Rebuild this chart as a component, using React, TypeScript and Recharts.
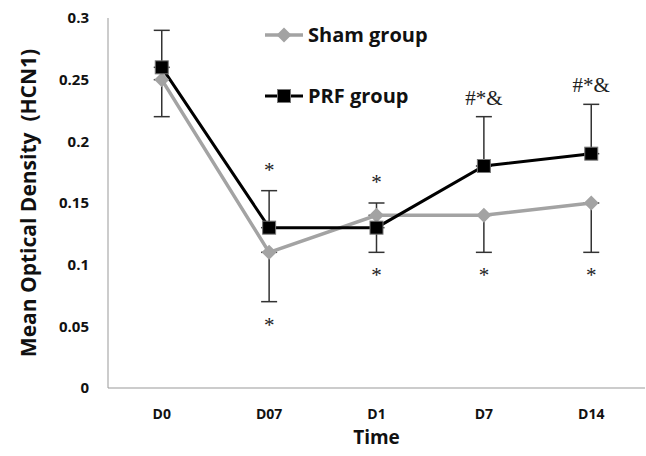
import * as React from 'react';
import { LineChart, Line, XAxis, YAxis, ErrorBar, LabelList } from 'recharts';

const days = ['D0', 'D07', 'D1', 'D7', 'D14'];
const sham = [0.25, 0.11, 0.14, 0.14, 0.15];
const prf = [0.26, 0.13, 0.13, 0.18, 0.19];
const shamErrDown = [0.03, 0.04, 0, 0.03, 0.04];
const shamErrUp = [0, 0, 0.01, 0, 0];
const prfErrUp = [0.03, 0.03, 0, 0.04, 0.04];
const prfErrDown = [0, 0, 0.02, 0, 0];
const marksAbove = ['', '*', '*', '#*&', '#*&'];
const marksBelow = ['', '*', '*', '*', '*'];
const yTicks = [0, 0.05, 0.1, 0.15, 0.2, 0.25, 0.3];

const data = days.map((d, i) => ({
    day: d,
    sham: sham[i],
    prf: prf[i],
    shamErr: [shamErrDown[i], shamErrUp[i]],
    prfErr: [prfErrDown[i], prfErrUp[i]],
    top: Math.max(sham[i] + shamErrUp[i], prf[i] + prfErrUp[i]),
    bottom: Math.min(sham[i] - shamErrDown[i], prf[i] - prfErrDown[i]),
    above: marksAbove[i],
    below: marksBelow[i],
}));

const SHAM = '#a3a3a3';
const FONT = '"Open Sans", Lato, sans-serif';

const Diamond = (props: any) => {
    const { cx, cy } = props;
    if (cx == null || cy == null) return null;
    const r = 7.5;
    return <polygon points={`${cx},${cy - r} ${cx + r},${cy} ${cx},${cy + r} ${cx - r},${cy}`} fill={SHAM} />;
};

const Square = (props: any) => {
    const { cx, cy } = props;
    if (cx == null || cy == null) return null;
    return <rect x={cx - 6.5} y={cy - 6.5} width={13} height={13} fill="#000" stroke="#777" strokeWidth={1} />;
};

const markAbove = (p: any) => {
    if (!p.value) return null;
    const star = p.value === '*';
    return (
        <text x={p.x} y={p.y - (star ? 14 : 12)} textAnchor="middle" fontFamily='"Liberation Serif", serif' fontSize={21} fill="#222">
            {p.value}
        </text>
    );
};

const markBelow = (p: any) => {
    if (!p.value) return null;
    return (
        <text x={p.x} y={p.y + 30} textAnchor="middle" fontFamily='"Liberation Serif", serif' fontSize={21} fill="#222">
            {p.value}
        </text>
    );
};

const LegendBox = () => (
    <svg width={200} height={100} style={{ position: 'absolute', left: 262, top: 17 }}>
        <line x1={3} y1={18} x2={41} y2={18} stroke={SHAM} strokeWidth={3.5} />
        <Diamond cx={22} cy={18} />
        <text x={46} y={25} fontFamily={FONT} fontWeight="bold" fontSize={20} fill="#111">Sham group</text>
        <line x1={3} y1={79} x2={41} y2={79} stroke="#000" strokeWidth={3} />
        <Square cx={22} cy={79} />
        <text x={46} y={86} fontFamily={FONT} fontWeight="bold" fontSize={20} fill="#111">PRF group</text>
    </svg>
);

const YTitle = (props: any) => {
    const vb = props.viewBox || {};
    const cy = vb.y + vb.height / 2;
    return (
        <text x={28} y={cy} transform={`rotate(-90, 28, ${cy})`} textAnchor="middle" dominantBaseline="central"
            fontFamily={FONT} fontWeight="bold" fontSize={21} fill="#111" style={{ whiteSpace: 'pre' }}>
            Mean Optical Density  (HCN1)
        </text>
    );
};

const XTitle = (props: any) => {
    const vb = props.viewBox || {};
    return (
        <text x={vb.x + vb.width / 2} y={444} textAnchor="middle" fontFamily={FONT} fontWeight="bold" fontSize={19} fill="#111">
            Time
        </text>
    );
};

export default function App() {
    return (
        <div style={{ position: 'absolute', left: 0, top: 0, width: 646, height: 456, background: '#fff' }}>
            <LineChart width={646} height={456} data={data} margin={{ top: 18, right: 1, left: 0, bottom: 38 }}>
                <XAxis dataKey="day" padding={{ left: 53.75, right: 53.75 }} tickLine={false} tickSize={0} tickMargin={21}
                    stroke="#999" tick={{ fill: '#111', fontFamily: FONT, fontWeight: 'bold', fontSize: 14 }} label={<XTitle />} />
                <YAxis domain={[0, 0.3]} ticks={yTicks} width={108} tickLine={false} tickSize={0} tickMargin={19}
                    stroke="#999" tick={{ fill: '#111', fontFamily: FONT, fontWeight: 'bold', fontSize: 15 }} label={<YTitle />} />
                <Line dataKey="sham" name="Sham group" stroke={SHAM} strokeWidth={3.5} dot={<Diamond />} activeDot={false} isAnimationActive={false}>
                    <ErrorBar dataKey="shamErr" width={8} stroke="#333" strokeWidth={1.5} direction="y" />
                </Line>
                <Line dataKey="prf" name="PRF group" stroke="#000" strokeWidth={3} dot={<Square />} activeDot={false} isAnimationActive={false}>
                    <ErrorBar dataKey="prfErr" width={8} stroke="#333" strokeWidth={1.5} direction="y" />
                </Line>
                <Line dataKey="top" stroke="none" dot={false} activeDot={false} legendType="none" isAnimationActive={false}>
                    <LabelList dataKey="above" content={markAbove} />
                </Line>
                <Line dataKey="bottom" stroke="none" dot={false} activeDot={false} legendType="none" isAnimationActive={false}>
                    <LabelList dataKey="below" content={markBelow} />
                </Line>
            </LineChart>
            <LegendBox />
        </div>
    );
}
